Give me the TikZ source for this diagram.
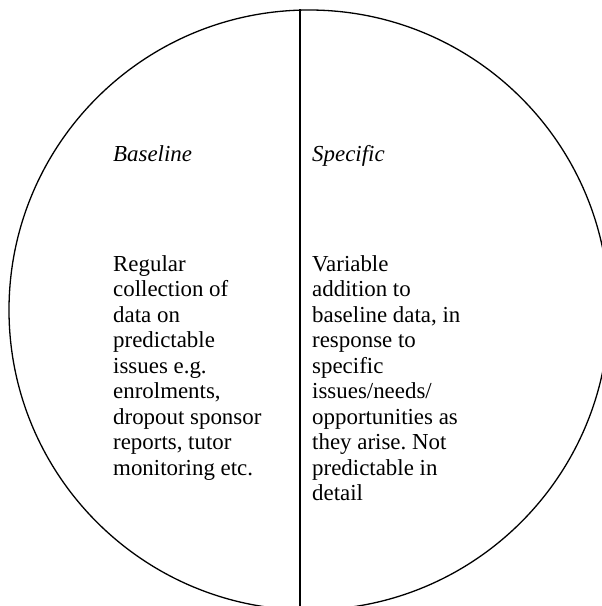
\documentclass[tikz,border=0pt]{standalone}
\usepackage{fontspec}
\setmainfont{Liberation Serif}
\frenchspacing
\begin{document}
\begin{tikzpicture}[x=1pt,y=-1pt,
  txt/.style={anchor=base west,inner sep=0pt,font=\fontsize{22.9}{25.5}\selectfont},
  ttl/.style={txt,font=\fontsize{22.9}{25.5}\selectfont\itshape},
  outline/.style={draw=black,line width=1.3pt}]
\useasboundingbox (0,0) rectangle (602,606);
\begin{scope}
\clip (0,0) rectangle (602,606);
\node[outline,circle,minimum size=600pt,inner sep=0pt] (circ) at (309,310) {};
\coordinate (bot) at (300,610);
\draw[line width=1.2pt] (circ.north -| bot) -- (bot);
\end{scope}
\node[ttl] (bl) at (113,161) {Baseline};
\node[ttl] (sp) at (312,161) {Specific};
\foreach \t [count=\i] in {Regular,collection of,data on,predictable,issues e.g.,{enrolments,},{dropout sponsor},{reports, tutor},monitoring etc.}
  \node[txt] (l\i) at (113,{271+(\i-1)*25.5}) {\t};
\foreach \t [count=\i] in {Variable,addition to,{baseline data, in},response to,specific,issues/needs/,opportunities as,they arise. Not,predictable in,detail}
  \node[txt] (r\i) at (312,{271+(\i-1)*25.5}) {\t};
\end{tikzpicture}
\end{document}
